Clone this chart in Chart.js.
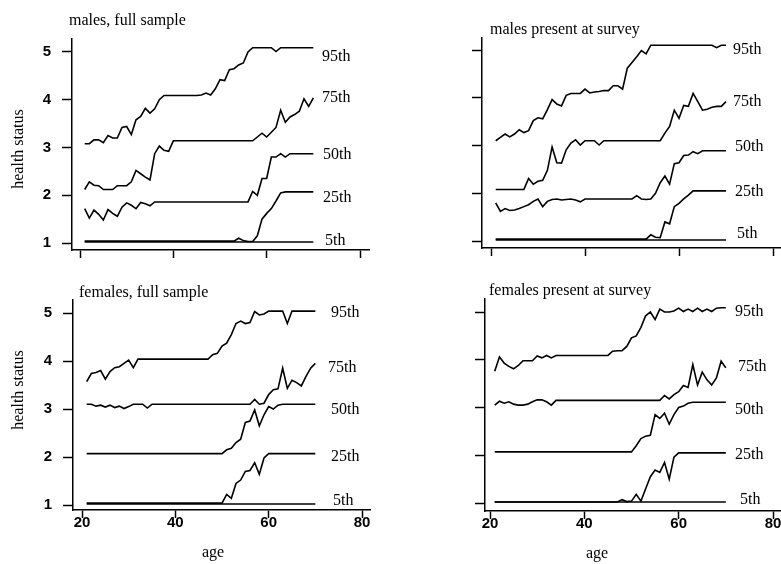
<!DOCTYPE html>
<html>
<head>
<meta charset="utf-8">
<script src="https://cdn.jsdelivr.net/npm/chart.js@4.4.1/dist/chart.umd.min.js"></script>
<style>
  html, body { margin: 0; padding: 0; background: #fff; }
  #wrap { position: relative; width: 781px; height: 564px; }
  #wrap canvas { position: absolute; left: 0; top: 0; }
</style>
</head>
<body>
<div id="wrap">
  <canvas id="malesFull" width="781" height="564"></canvas>
  <canvas id="malesSurvey" width="781" height="564"></canvas>
  <canvas id="femalesFull" width="781" height="564"></canvas>
  <canvas id="femalesSurvey" width="781" height="564"></canvas>
</div>
<script>
const ages = [21, 22, 23, 24, 25, 26, 27, 28, 29, 30,
              31, 32, 33, 34, 35, 36, 37, 38, 39, 40,
              41, 42, 43, 44, 45, 46, 47, 48, 49, 50,
              51, 52, 53, 54, 55, 56, 57, 58, 59, 60,
              61, 62, 63, 64, 65, 66, 67, 68, 69, 70];
const quantiles = ['95th', '75th', '50th', '25th', '5th'];
const xTicks = [20, 40, 60, 80];
const yTicks = [1, 2, 3, 4, 5];
const yTitle = 'health status';
const xTitle = 'age';

// males, full sample
const malesFull95 = [3.08, 3.08, 3.16, 3.16, 3.10, 3.25, 3.20, 3.20, 3.42, 3.44,
                     3.27, 3.58, 3.65, 3.82, 3.72, 3.81, 4.00, 4.09, 4.09, 4.09,
                     4.09, 4.09, 4.09, 4.09, 4.09, 4.10, 4.14, 4.10, 4.23, 4.42,
                     4.40, 4.63, 4.65, 4.73, 4.77, 5.00, 5.09, 5.09, 5.09, 5.09,
                     5.09, 5.01, 5.09, 5.09, 5.09, 5.09, 5.09, 5.09, 5.09, 5.09];
const malesFull75 = [2.12, 2.28, 2.21, 2.20, 2.12, 2.12, 2.12, 2.20, 2.20, 2.20,
                     2.28, 2.52, 2.45, 2.38, 2.32, 2.87, 3.03, 2.94, 2.92, 3.14,
                     3.14, 3.14, 3.14, 3.14, 3.14, 3.14, 3.14, 3.14, 3.14, 3.14,
                     3.14, 3.14, 3.14, 3.14, 3.14, 3.14, 3.14, 3.22, 3.30, 3.22,
                     3.32, 3.42, 3.78, 3.53, 3.64, 3.69, 3.76, 4.02, 3.86, 4.04];
const malesFull50 = [1.72, 1.52, 1.69, 1.60, 1.48, 1.70, 1.62, 1.56, 1.75, 1.84,
                     1.79, 1.72, 1.85, 1.82, 1.78, 1.86, 1.86, 1.86, 1.86, 1.86,
                     1.86, 1.86, 1.86, 1.86, 1.86, 1.86, 1.86, 1.86, 1.86, 1.86,
                     1.86, 1.86, 1.86, 1.86, 1.86, 1.86, 2.08, 2.00, 2.35, 2.35,
                     2.80, 2.80, 2.87, 2.80, 2.87, 2.87, 2.87, 2.87, 2.87, 2.87];
const malesFull25 = [1.04, 1.04, 1.04, 1.04, 1.04, 1.04, 1.04, 1.04, 1.04, 1.04,
                     1.04, 1.04, 1.04, 1.04, 1.04, 1.04, 1.04, 1.04, 1.04, 1.04,
                     1.04, 1.04, 1.04, 1.04, 1.04, 1.04, 1.04, 1.04, 1.04, 1.04,
                     1.04, 1.04, 1.04, 1.10, 1.05, 1.03, 1.03, 1.15, 1.50, 1.62,
                     1.72, 1.88, 2.05, 2.07, 2.07, 2.07, 2.07, 2.07, 2.07, 2.07];
const malesFull5 = [1.02, 1.02, 1.02, 1.02, 1.02, 1.02, 1.02, 1.02, 1.02, 1.02,
                    1.02, 1.02, 1.02, 1.02, 1.02, 1.02, 1.02, 1.02, 1.02, 1.02,
                    1.02, 1.02, 1.02, 1.02, 1.02, 1.02, 1.02, 1.02, 1.02, 1.02,
                    1.02, 1.02, 1.02, 1.02, 1.02, 1.02, 1.02, 1.02, 1.02, 1.02,
                    1.02, 1.02, 1.02, 1.02, 1.02, 1.02, 1.02, 1.02, 1.02, 1.02];

// males present at survey
const malesSurvey95 = [3.10, 3.17, 3.24, 3.18, 3.24, 3.33, 3.27, 3.31, 3.52, 3.58,
                       3.56, 3.75, 3.96, 3.87, 3.83, 4.05, 4.09, 4.09, 4.09, 4.18,
                       4.10, 4.12, 4.13, 4.15, 4.15, 4.25, 4.25, 4.18, 4.62, 4.74,
                       4.86, 4.99, 4.92, 5.10, 5.10, 5.10, 5.10, 5.10, 5.10, 5.10,
                       5.10, 5.10, 5.10, 5.10, 5.10, 5.10, 5.10, 5.05, 5.10, 5.10];
const malesSurvey75 = [2.08, 2.08, 2.08, 2.08, 2.08, 2.08, 2.08, 2.31, 2.19, 2.25,
                       2.27, 2.48, 2.97, 2.64, 2.63, 2.91, 3.05, 3.12, 3.01, 3.10,
                       3.10, 3.10, 3.01, 3.10, 3.10, 3.10, 3.10, 3.10, 3.10, 3.10,
                       3.10, 3.10, 3.10, 3.10, 3.10, 3.10, 3.26, 3.40, 3.74, 3.57,
                       3.84, 3.82, 4.09, 3.92, 3.74, 3.76, 3.80, 3.82, 3.82, 3.92];
const malesSurvey50 = [1.80, 1.62, 1.68, 1.64, 1.65, 1.68, 1.72, 1.76, 1.83, 1.88,
                       1.72, 1.83, 1.87, 1.88, 1.86, 1.87, 1.88, 1.86, 1.82, 1.88,
                       1.88, 1.88, 1.88, 1.88, 1.88, 1.88, 1.88, 1.88, 1.88, 1.88,
                       1.95, 1.88, 1.87, 1.88, 2.00, 2.22, 2.36, 2.19, 2.62, 2.64,
                       2.79, 2.80, 2.87, 2.83, 2.89, 2.89, 2.89, 2.89, 2.89, 2.89];
const malesSurvey25 = [1.04, 1.04, 1.04, 1.04, 1.04, 1.04, 1.04, 1.04, 1.04, 1.04,
                       1.04, 1.04, 1.04, 1.04, 1.04, 1.04, 1.04, 1.04, 1.04, 1.04,
                       1.04, 1.04, 1.04, 1.04, 1.04, 1.04, 1.04, 1.04, 1.04, 1.04,
                       1.04, 1.04, 1.04, 1.13, 1.08, 1.07, 1.40, 1.36, 1.72, 1.79,
                       1.88, 1.96, 2.05, 2.05, 2.05, 2.05, 2.05, 2.05, 2.05, 2.05];
const malesSurvey5 = [1.02, 1.02, 1.02, 1.02, 1.02, 1.02, 1.02, 1.02, 1.02, 1.02,
                      1.02, 1.02, 1.02, 1.02, 1.02, 1.02, 1.02, 1.02, 1.02, 1.02,
                      1.02, 1.02, 1.02, 1.02, 1.02, 1.02, 1.02, 1.02, 1.02, 1.02,
                      1.02, 1.02, 1.02, 1.02, 1.02, 1.02, 1.02, 1.02, 1.02, 1.02,
                      1.02, 1.02, 1.02, 1.02, 1.02, 1.02, 1.02, 1.02, 1.02, 1.02];

// females, full sample
const femalesFull95 = [3.57, 3.74, 3.76, 3.80, 3.62, 3.78, 3.86, 3.88, 3.95, 4.02,
                       3.86, 4.04, 4.04, 4.04, 4.04, 4.04, 4.04, 4.04, 4.04, 4.04,
                       4.04, 4.04, 4.04, 4.04, 4.04, 4.04, 4.04, 4.13, 4.16, 4.31,
                       4.37, 4.55, 4.78, 4.83, 4.78, 4.80, 5.03, 4.96, 4.98, 5.04,
                       5.04, 5.04, 5.04, 4.78, 5.04, 5.04, 5.04, 5.04, 5.04, 5.04];
const femalesFull75 = [3.10, 3.10, 3.06, 3.08, 3.04, 3.08, 3.03, 3.06, 3.01, 3.05,
                       3.10, 3.10, 3.10, 3.02, 3.10, 3.10, 3.10, 3.10, 3.10, 3.10,
                       3.10, 3.10, 3.10, 3.10, 3.10, 3.10, 3.10, 3.10, 3.10, 3.10,
                       3.10, 3.10, 3.10, 3.10, 3.10, 3.10, 3.20, 3.10, 3.12, 3.30,
                       3.40, 3.42, 3.85, 3.43, 3.60, 3.55, 3.48, 3.68, 3.85, 3.95];
const femalesFull50 = [2.07, 2.07, 2.07, 2.07, 2.07, 2.07, 2.07, 2.07, 2.07, 2.07,
                       2.07, 2.07, 2.07, 2.07, 2.07, 2.07, 2.07, 2.07, 2.07, 2.07,
                       2.07, 2.07, 2.07, 2.07, 2.07, 2.07, 2.07, 2.07, 2.07, 2.07,
                       2.15, 2.18, 2.30, 2.37, 2.72, 2.75, 2.98, 2.65, 2.88, 3.05,
                       3.00, 3.08, 3.10, 3.10, 3.10, 3.10, 3.10, 3.10, 3.10, 3.10];
const femalesFull25 = [1.04, 1.04, 1.04, 1.04, 1.04, 1.04, 1.04, 1.04, 1.04, 1.04,
                       1.04, 1.04, 1.04, 1.04, 1.04, 1.04, 1.04, 1.04, 1.04, 1.04,
                       1.04, 1.04, 1.04, 1.04, 1.04, 1.04, 1.04, 1.04, 1.04, 1.04,
                       1.22, 1.14, 1.45, 1.52, 1.70, 1.72, 1.88, 1.64, 1.98, 2.07,
                       2.07, 2.07, 2.07, 2.07, 2.07, 2.07, 2.07, 2.07, 2.07, 2.07];
const femalesFull5 = [1.02, 1.02, 1.02, 1.02, 1.02, 1.02, 1.02, 1.02, 1.02, 1.02,
                      1.02, 1.02, 1.02, 1.02, 1.02, 1.02, 1.02, 1.02, 1.02, 1.02,
                      1.02, 1.02, 1.02, 1.02, 1.02, 1.02, 1.02, 1.02, 1.02, 1.02,
                      1.02, 1.02, 1.02, 1.02, 1.02, 1.02, 1.02, 1.02, 1.02, 1.02,
                      1.02, 1.02, 1.02, 1.02, 1.02, 1.02, 1.02, 1.02, 1.02, 1.02];

// females present at survey
const femalesSurvey95 = [3.76, 4.06, 3.93, 3.86, 3.81, 3.88, 3.98, 3.98, 3.98, 4.08,
                         4.04, 4.09, 4.04, 4.09, 4.09, 4.09, 4.09, 4.09, 4.09, 4.09,
                         4.09, 4.09, 4.09, 4.09, 4.09, 4.18, 4.19, 4.19, 4.28, 4.46,
                         4.50, 4.68, 4.92, 5.00, 4.84, 5.06, 5.00, 5.00, 5.02, 5.08,
                         5.01, 5.06, 5.01, 5.08, 5.01, 5.06, 5.01, 5.08, 5.09, 5.09];
const femalesSurvey75 = [3.05, 3.13, 3.09, 3.12, 3.07, 3.05, 3.05, 3.07, 3.12, 3.16,
                         3.16, 3.12, 3.05, 3.15, 3.15, 3.15, 3.15, 3.15, 3.15, 3.15,
                         3.15, 3.15, 3.15, 3.15, 3.15, 3.15, 3.15, 3.15, 3.15, 3.15,
                         3.15, 3.15, 3.15, 3.15, 3.15, 3.15, 3.25, 3.18, 3.27, 3.33,
                         3.46, 3.42, 3.90, 3.47, 3.74, 3.58, 3.47, 3.62, 3.97, 3.83];
const femalesSurvey50 = [2.07, 2.07, 2.07, 2.07, 2.07, 2.07, 2.07, 2.07, 2.07, 2.07,
                         2.07, 2.07, 2.07, 2.07, 2.07, 2.07, 2.07, 2.07, 2.07, 2.07,
                         2.07, 2.07, 2.07, 2.07, 2.07, 2.07, 2.07, 2.07, 2.07, 2.07,
                         2.20, 2.35, 2.40, 2.42, 2.85, 2.77, 2.88, 2.65, 2.85, 3.00,
                         3.03, 3.09, 3.11, 3.11, 3.11, 3.11, 3.11, 3.11, 3.11, 3.11];
const femalesSurvey25 = [1.02, 1.02, 1.02, 1.02, 1.02, 1.02, 1.02, 1.02, 1.02, 1.02,
                         1.02, 1.02, 1.02, 1.02, 1.02, 1.02, 1.02, 1.02, 1.02, 1.02,
                         1.02, 1.02, 1.02, 1.02, 1.02, 1.02, 1.02, 1.07, 1.03, 1.04,
                         1.18, 1.04, 1.30, 1.55, 1.69, 1.64, 1.85, 1.50, 1.96, 2.05,
                         2.05, 2.05, 2.05, 2.05, 2.05, 2.05, 2.05, 2.05, 2.05, 2.05];
const femalesSurvey5 = [1.02, 1.02, 1.02, 1.02, 1.02, 1.02, 1.02, 1.02, 1.02, 1.02,
                        1.02, 1.02, 1.02, 1.02, 1.02, 1.02, 1.02, 1.02, 1.02, 1.02,
                        1.02, 1.02, 1.02, 1.02, 1.02, 1.02, 1.02, 1.02, 1.02, 1.02,
                        1.02, 1.02, 1.02, 1.02, 1.02, 1.02, 1.02, 1.02, 1.02, 1.02,
                        1.02, 1.02, 1.02, 1.02, 1.02, 1.02, 1.02, 1.02, 1.02, 1.02];

// where each panel sits on the page (pixels)
const panels = [
  { id: 'malesFull', title: 'males, full sample',
    series: [malesFull95, malesFull75, malesFull50, malesFull25, malesFull5],
    area: { l: 72, r: 369, t: 39, b: 250 }, tickPx: { x20: 80, x80: 360, y5: 52, y1: 243 },
    xLabels: false, yLabels: true,
    titleAt: [69, 25], yTitleAt: [19, 149], xTitleAt: null,
    endX: [322, 322, 323, 323, 325], endY: [57, 98, 155, 198, 241] },
  { id: 'malesSurvey', title: 'males present at survey',
    series: [malesSurvey95, malesSurvey75, malesSurvey50, malesSurvey25, malesSurvey5],
    area: { l: 482, r: 781, t: 38, b: 248 }, tickPx: { x20: 491, x80: 773, y5: 50, y1: 241 },
    xLabels: false, yLabels: false,
    titleAt: [490, 34], yTitleAt: null, xTitleAt: null,
    endX: [733, 733, 735, 735, 737], endY: [50, 102, 147, 192, 234] },
  { id: 'femalesFull', title: 'females, full sample',
    series: [femalesFull95, femalesFull75, femalesFull50, femalesFull25, femalesFull5],
    area: { l: 73, r: 370, t: 300, b: 510 }, tickPx: { x20: 82, x80: 362, y5: 313, y1: 505 },
    xLabels: true, yLabels: true,
    titleAt: [79, 297], yTitleAt: [19, 390], xTitleAt: [213, 557],
    endX: [331, 328, 331, 331, 333], endY: [313, 368, 410, 457, 501] },
  { id: 'femalesSurvey', title: 'females present at survey',
    series: [femalesSurvey95, femalesSurvey75, femalesSurvey50, femalesSurvey25, femalesSurvey5],
    area: { l: 485, r: 781, t: 299, b: 511 }, tickPx: { x20: 490, x80: 773, y5: 312, y1: 503 },
    xLabels: true, yLabels: false,
    titleAt: [489, 295], yTitleAt: null, xTitleAt: [597, 558],
    endX: [735, 738, 735, 735, 740], endY: [312, 367, 410, 455, 500] }
];

const serif = '16px "Liberation Serif", "Times New Roman", serif';
const tickFont = { family: '"Liberation Sans", Arial, sans-serif', size: 15, weight: 'bold' };

// panel title, axis titles and the quantile names at the line ends
const panelText = {
  id: 'panelText',
  afterDraw(chart, args, opts) {
    const p = opts.panel;
    const ctx = chart.ctx;
    ctx.save();
    ctx.fillStyle = '#000';
    ctx.font = serif;
    ctx.textAlign = 'left';
    ctx.textBaseline = 'alphabetic';
    ctx.fillText(p.title, p.titleAt[0], p.titleAt[1]);
    ctx.textBaseline = 'middle';
    quantiles.forEach((q, i) => ctx.fillText(q, p.endX[i], p.endY[i]));
    if (p.xTitleAt) {
      ctx.textAlign = 'center';
      ctx.textBaseline = 'alphabetic';
      ctx.fillText(xTitle, p.xTitleAt[0], p.xTitleAt[1]);
    }
    if (p.yTitleAt) {
      ctx.translate(p.yTitleAt[0], p.yTitleAt[1]);
      ctx.rotate(-Math.PI / 2);
      ctx.textAlign = 'center';
      ctx.textBaseline = 'middle';
      ctx.fillText(yTitle, 0, 0);
    }
    ctx.restore();
  }
};

const W = 781, H = 564;
const yW = 60, xH = 30;

panels.forEach(p => {
  const a = p.area, t = p.tickPx;
  const pxYear = (t.x80 - t.x20) / 60;
  const pxUnit = (t.y1 - t.y5) / 4;

  new Chart(document.getElementById(p.id), {
    type: 'line',
    data: {
      datasets: p.series.map(s => ({
        data: ages.map((age, i) => ({ x: age, y: s[i] })),
        borderColor: '#000',
        borderWidth: 1.6,
        pointRadius: 0,
        tension: 0,
        fill: false
      }))
    },
    plugins: [panelText],
    options: {
      responsive: false,
      animation: false,
      devicePixelRatio: 1,
      events: [],
      layout: {
        autoPadding: false,
        padding: { left: a.l - yW, right: W - a.r, top: a.t, bottom: H - a.b - xH }
      },
      plugins: {
        legend: { display: false },
        tooltip: { enabled: false },
        panelText: { panel: p }
      },
      scales: {
        x: {
          type: 'linear',
          min: 20 - (t.x20 - a.l) / pxYear,
          max: 80 + (a.r - t.x80) / pxYear,
          afterBuildTicks: s => { s.ticks = xTicks.map(v => ({ value: v })); },
          afterFit: s => { s.height = xH; },
          border: { display: true, color: '#000', width: 1.5 },
          grid: { drawOnChartArea: false, drawTicks: true, tickLength: 8, tickWidth: 1.5, tickColor: '#000', color: '#000' },
          ticks: { display: p.xLabels, color: '#000', font: tickFont, padding: -4, maxRotation: 0, autoSkip: false }
        },
        y: {
          type: 'linear',
          min: 1 - (a.b - t.y1) / pxUnit,
          max: 5 + (t.y5 - a.t) / pxUnit,
          afterBuildTicks: s => { s.ticks = yTicks.map(v => ({ value: v })); },
          afterFit: s => { s.width = yW; },
          border: { display: true, color: '#000', width: 1.5 },
          grid: { drawOnChartArea: false, drawTicks: true, tickLength: 10, tickWidth: 1.5, tickColor: '#000', color: '#000' },
          ticks: { display: p.yLabels, color: '#000', font: tickFont, padding: 11 }
        }
      }
    }
  });
});
</script>
</body>
</html>
